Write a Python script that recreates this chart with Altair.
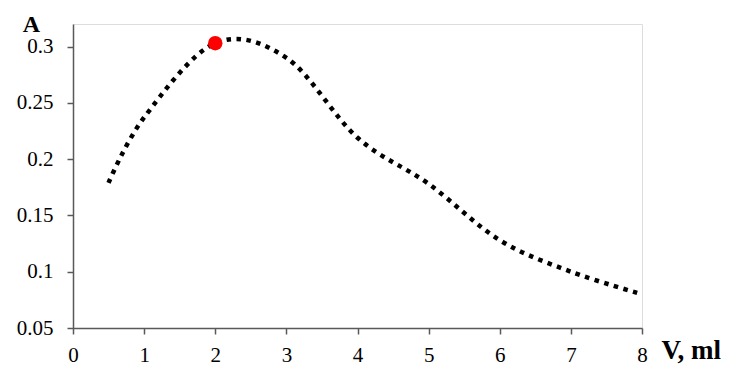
import altair as alt
import pandas as pd

volume = [0.5, 1, 2, 3, 4, 5, 6, 7, 8]
absorbance = [0.179, 0.237, 0.303, 0.290, 0.219, 0.178, 0.128, 0.100, 0.080]
peak_v = [2]
peak_a = [0.303]
x_ticks = [0, 1, 2, 3, 4, 5, 6, 7, 8]
y_ticks = [0.05, 0.1, 0.15, 0.2, 0.25, 0.3]

df = pd.DataFrame({"V": volume, "A": absorbance})
pk = pd.DataFrame({"V": peak_v, "A": peak_a})

FONT = "Liberation Serif"
AXC = "#595959"

x = alt.X("V:Q", scale=alt.Scale(domain=[0, 8], nice=False, zero=False),
          axis=alt.Axis(values=x_ticks, format="d", title="V, ml", titleAngle=0,
                        titleAnchor="start", titleAlign="left", titleBaseline="alphabetic",
                        titleX=588, titleY=30, titleFont=FONT, titleFontSize=27,
                        titleFontWeight="bold", titleColor="black",
                        labelFont=FONT, labelFontSize=21, labelColor="black",
                        labelPadding=10, tickSize=6, tickColor=AXC, domainColor=AXC,
                        domainWidth=1.5, tickWidth=1.5, grid=False, labelFlush=False))
y = alt.Y("A:Q", scale=alt.Scale(domain=[0.05, 0.32], nice=False, zero=False),
          axis=alt.Axis(values=y_ticks, format="~g", title="A", titleAngle=0, titleAlign="center",
                        titleBaseline="alphabetic", titleX=-42, titleY=7, titleFont=FONT,
                        titleFontSize=24, titleFontWeight="bold", titleColor="black",
                        labelFont=FONT, labelFontSize=21, labelColor="black",
                        labelPadding=14, tickSize=6, tickColor=AXC, domainColor=AXC,
                        domainWidth=1.5, tickWidth=1.5, grid=False, labelFlush=False))

line = alt.Chart(df).mark_line(color="black", strokeWidth=4.5, strokeDash=[4.5, 5.5],
                               strokeCap="butt", interpolate="cardinal").encode(x=x, y=y)
dot = alt.Chart(pk).mark_point(filled=True, color="#ff0000", size=210, opacity=1).encode(x=x, y=y)

chart = (line + dot).properties(
    width=569, height=304, autosize="none",
    padding={"left": 73, "top": 24, "right": 90, "bottom": 48},
).configure_view(stroke=None).configure(background="white", font=FONT).configure_axis(
    labelFont=FONT, titleFont=FONT)

chart.save("out.html", embed_options={"renderer": "svg", "actions": False})
